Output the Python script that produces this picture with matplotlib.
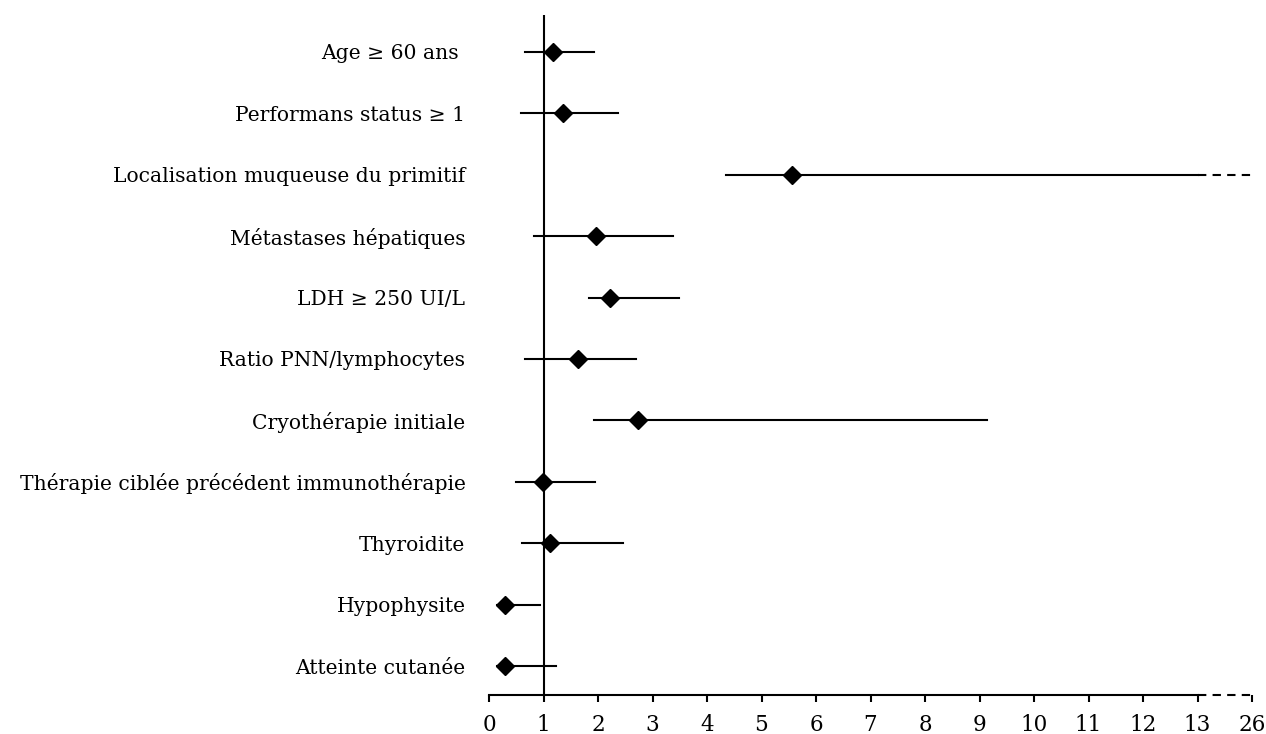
import numpy as np
import matplotlib
matplotlib.use("Agg")
import matplotlib.pyplot as plt

plt.rcParams['font.family'] = ['DejaVu Serif']

labels = ["Age ≥ 60 ans ", "Performans status ≥ 1", "Localisation muqueuse du primitif",
          "Métastases hépatiques", "LDH ≥ 250 UI/L", "Ratio PNN/lymphocytes",
          "Cryothérapie initiale", "Thérapie ciblée précédent immunothérapie",
          "Thyroidite", "Hypophysite", "Atteinte cutanée"]
hr = [1.18, 1.35, 5.56, 1.96, 2.22, 1.64, 2.74, 0.99, 1.12, 0.29, 0.30]
lower = [0.66, 0.58, 4.35, 0.83, 1.83, 0.66, 1.92, 0.49, 0.60, 0.15, 0.15]
upper = [1.92, 2.37, 26.0, 3.37, 3.48, 2.70, 9.14, 1.94, 2.46, 0.94, 1.23]
tick_vals = [0, 1, 2, 3, 4, 5, 6, 7, 8, 9, 10, 11, 12, 13, 26]

BREAK = 13


def pos(v):
    # axis is linear up to 13, then 13 -> 26 squeezed into one unit
    v = np.asarray(v, dtype=float)
    return np.where(v <= BREAK, v, BREAK + (v - BREAK) / BREAK)


fig = plt.figure(figsize=(12.66, 7.34), dpi=100)
ax = fig.add_axes([489 / 1266, 1 - 695 / 734, (1252 - 489) / 1266, (695 - 15) / 734])

n = len(labels)
ys = np.arange(n, 0, -1)

ax.axvline(1, color='black', lw=1.5, zorder=1)

for y, lo, hi, p in zip(ys, lower, upper, hr):
    lo_p, hi_p = pos(lo), pos(hi)
    if hi > BREAK:
        ax.plot([lo_p, BREAK], [y, y], color='black', lw=1.5, zorder=2)
        ax.plot([BREAK, hi_p], [y, y], color='black', lw=1.5, ls=(0, (4, 3)), zorder=2, clip_on=False)
    else:
        ax.plot([lo_p, hi_p], [y, y], color='black', lw=1.5, zorder=2)
    ax.plot(pos(p), y, marker='D', color='black', ms=9, zorder=3)

# x axis with break
y_ax = 0.53
ax.plot([0, BREAK], [y_ax, y_ax], color='black', lw=1.5, clip_on=False)
ax.plot([BREAK, pos(26)], [y_ax, y_ax], color='black', lw=1.5, ls=(0, (4, 3)), clip_on=False)

ax.set_xlim(0, pos(26))
ax.set_ylim(y_ax, 11.6)
for s in ax.spines.values():
    s.set_visible(False)

ax.set_xticks(pos(tick_vals))
ax.set_xticklabels([str(t) for t in tick_vals], fontsize=15.5)
ax.tick_params(axis='x', direction='out', length=5, width=1.5, pad=9)
ax.set_yticks(ys)
ax.set_yticklabels(labels, fontsize=14.6)
ax.tick_params(axis='y', length=0, pad=17)

fig.savefig('out.png', dpi=100)
